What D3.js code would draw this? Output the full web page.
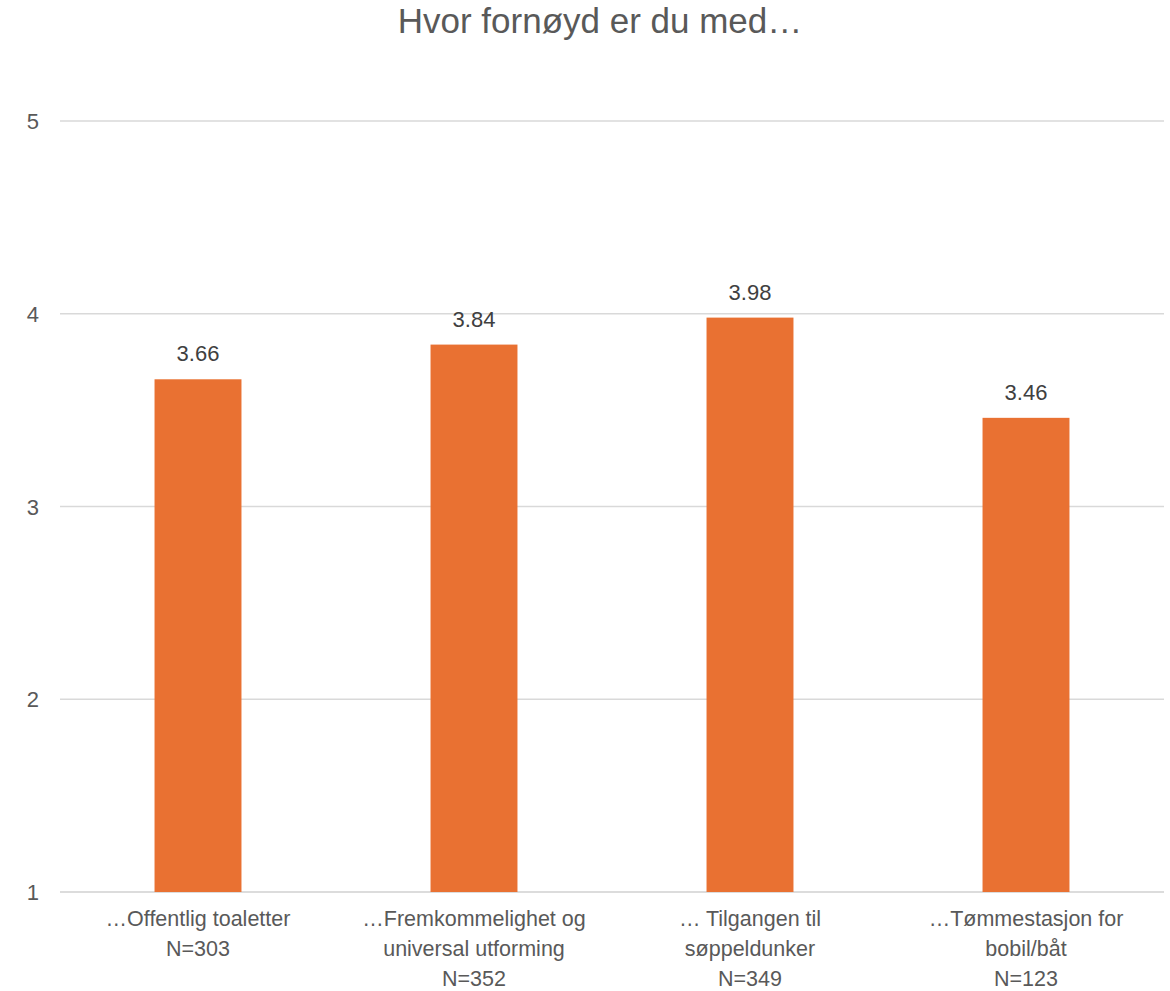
<!DOCTYPE html>
<html><head><meta charset="utf-8">
<script src="https://cdn.jsdelivr.net/npm/d3@7"></script>
<style>body{margin:0;background:#fff}svg{display:block;font-family:"Liberation Sans",Arial,sans-serif}</style>
</head><body><svg id="c" width="1170" height="991"></svg>
<script>
const categories = [
  ["…Offentlig toaletter", "N=303"],
  ["…Fremkommelighet og", "universal utforming", "N=352"],
  ["… Tilgangen til", "søppeldunker", "N=349"],
  ["…Tømmestasjon for", "bobil/båt", "N=123"]
];
const values = [3.66, 3.84, 3.98, 3.46];
const yTicks = [1, 2, 3, 4, 5];
const title = "Hvor fornøyd er du med…";

const svg = d3.select("#c");
const x = d3.scaleBand().domain(d3.range(categories.length)).range([60, 1164]).paddingInner(0.685).paddingOuter(0.3425);
const y = d3.scaleLinear().domain([1, 5]).range([892, 121]);

svg.append("text").attr("x", 600).attr("y", 33).attr("text-anchor", "middle")
  .attr("font-size", 35).attr("fill", "#595959").text(title);

svg.append("g").selectAll("line").data(yTicks).join("line")
  .attr("x1", 60).attr("x2", 1164).attr("y1", d => y(d)).attr("y2", d => y(d))
  .attr("stroke", d => d === 1 ? "#d0d0d0" : "#d9d9d9").attr("stroke-width", 1.5);

svg.append("g").selectAll("text").data(yTicks).join("text")
  .attr("x", 39).attr("y", d => y(d) + 8).attr("text-anchor", "end")
  .attr("font-size", 22).attr("fill", "#595959").text(d => d);

svg.append("g").selectAll("rect").data(values).join("rect")
  .attr("x", (d, i) => x(i)).attr("width", x.bandwidth())
  .attr("y", d => y(d)).attr("height", d => y(1) - y(d)).attr("fill", "#E97132");

svg.append("g").selectAll("text").data(values).join("text")
  .attr("x", (d, i) => x(i) + x.bandwidth() / 2).attr("y", d => y(d) - 18)
  .attr("text-anchor", "middle").attr("font-size", 22).attr("fill", "#404040")
  .text(d => d.toFixed(2));

const lab = svg.append("g").selectAll("text").data(categories).join("text")
  .attr("text-anchor", "middle").attr("font-size", 21.5).attr("fill", "#595959");
lab.each(function(lines, i) {
  d3.select(this).selectAll("tspan").data(lines).join("tspan")
    .attr("x", x(i) + x.bandwidth() / 2).attr("y", (d, j) => 926 + j * 30).text(d => d);
});
</script></body></html>
